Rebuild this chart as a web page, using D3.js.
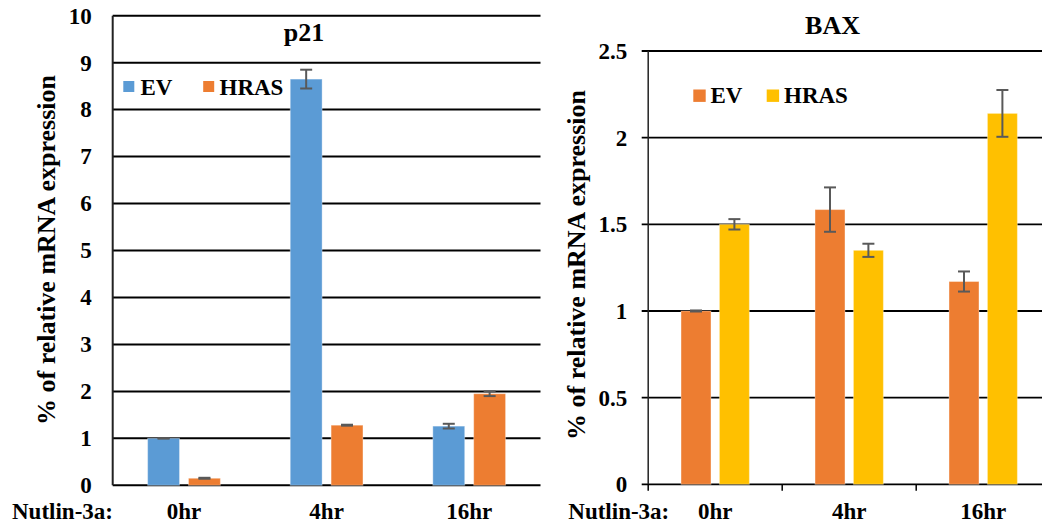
<!DOCTYPE html>
<html>
<head>
<meta charset="utf-8">
<script src="https://cdn.jsdelivr.net/npm/d3@7"></script>
<style>
  html, body { margin: 0; padding: 0; background: #fff; }
  svg { display: block; }
</style>
</head>
<body>
<svg id="chart" width="1042" height="527"></svg>
<script>
// Time points after Nutlin-3a treatment
const timepoints = ["0hr", "4hr", "16hr"];
const seriesNames = ["EV", "HRAS"];

// p21 relative mRNA expression (mean and error)
const p21EV = [1.00, 8.65, 1.26];
const p21EVErr = [0.005, 0.20, 0.05];
const p21HRAS = [0.15, 1.28, 1.95];
const p21HRASErr = [0.01, 0.01, 0.05];
const p21Ticks = [0, 1, 2, 3, 4, 5, 6, 7, 8, 9, 10];

// BAX relative mRNA expression (mean and error)
const baxEV = [1.00, 1.585, 1.17];
const baxEVErr = [0.003, 0.128, 0.058];
const baxHRAS = [1.50, 1.35, 2.14];
const baxHRASErr = [0.03, 0.038, 0.135];
const baxTicks = [0, 0.5, 1, 1.5, 2, 2.5];

const FONT = '"Liberation Serif"';
const svg = d3.select("#chart");

function label(sel, size) {
  return sel.attr("font-family", "Liberation Serif")
    .style("font-family", FONT).style("font-weight", "bold")
    .style("font-size", size + "px").style("fill", "#000");
}

function drawPanel(cfg) {
  const g = svg.append("g");
  const x0 = d3.scaleBand().domain(timepoints).range(cfg.xRange);
  const y = d3.scaleLinear().domain(cfg.yDomain).range(cfg.yRange);
  const pairW = x0.bandwidth() * 0.51;
  const x1 = d3.scaleBand().domain(seriesNames).range([-pairW / 2, pairW / 2]).paddingInner(0.22);
  const left = cfg.xRange[0];
  const right = Math.min(cfg.xRange[1], 1042);

  // gridlines
  g.append("g").selectAll("line").data(cfg.ticks).join("line")
    .attr("x1", left - cfg.tickOut).attr("x2", right)
    .attr("y1", d => y(d)).attr("y2", d => y(d))
    .attr("stroke", "#000").attr("stroke-width", cfg.gridW);

  // value axis line
  g.append("line")
    .attr("x1", left).attr("x2", left)
    .attr("y1", y(cfg.yDomain[0])).attr("y2", y(cfg.yDomain[1]))
    .attr("stroke", "#222").attr("stroke-width", cfg.axisW);

  // tick labels
  const ax = g.append("g").attr("transform", `translate(${left},0)`)
    .call(d3.axisLeft(y).tickValues(cfg.ticks).tickSize(0).tickPadding(21).tickFormat(d => String(d)));
  ax.select(".domain").remove();
  ax.attr("font-family", null).attr("font-size", null);
  label(ax.selectAll("text"), 23);

  // category tick marks below the baseline
  if (cfg.catTicks) {
    const bounds = timepoints.map(t => x0(t)).concat([x0(timepoints[2]) + x0.bandwidth()]);
    g.append("g").selectAll("line").data(bounds.filter(b => b <= 1042)).join("line")
      .attr("x1", d => d).attr("x2", d => d)
      .attr("y1", y(0)).attr("y2", y(0) + 6.5)
      .attr("stroke", "#000").attr("stroke-width", 1.5);
  }

  // bars
  const rows = timepoints.map((t, i) => ({
    t,
    items: seriesNames.map((s, j) => ({ s, v: cfg.values[j][i], e: cfg.errors[j][i], c: cfg.colors[j] }))
  }));
  const grp = g.append("g").selectAll("g").data(rows).join("g")
    .attr("transform", d => `translate(${x0(d.t) + x0.bandwidth() / 2},0)`);
  grp.selectAll("rect").data(d => d.items).join("rect")
    .attr("x", d => x1(d.s)).attr("width", x1.bandwidth())
    .attr("y", d => y(d.v)).attr("height", d => y(0) - y(d.v))
    .attr("fill", d => d.c)
    .attr("stroke", "#fff").attr("stroke-opacity", 0.35).attr("stroke-width", 1);

  // error bars
  const eb = grp.selectAll("g.err").data(d => d.items).join("g").attr("class", "err")
    .attr("stroke", "#595959").attr("stroke-width", 2);
  const cx = d => x1(d.s) + x1.bandwidth() / 2;
  eb.append("line")
    .attr("x1", cx).attr("x2", cx)
    .attr("y1", d => y(d.v + d.e)).attr("y2", d => y(d.v - d.e));
  eb.append("line")
    .attr("x1", d => cx(d) - 6).attr("x2", d => cx(d) + 6)
    .attr("y1", d => y(d.v + d.e)).attr("y2", d => y(d.v + d.e));
  eb.append("line")
    .attr("x1", d => cx(d) - 6).attr("x2", d => cx(d) + 6)
    .attr("y1", d => y(d.v - d.e)).attr("y2", d => y(d.v - d.e));

  // category labels
  label(g.append("g").selectAll("text").data(timepoints).join("text")
    .attr("x", d => x0(d) + x0.bandwidth() / 2).attr("y", 519)
    .attr("text-anchor", "middle").text(d => d), 23);

  label(g.append("text").attr("x", cfg.nutlinX).attr("y", 519).text("Nutlin-3a:"), 23);

  // chart title
  label(g.append("text").attr("x", cfg.title.x).attr("y", cfg.title.y)
    .attr("text-anchor", "middle").text(cfg.title.text), 26);

  // value axis title
  label(g.append("text").attr("transform", `translate(${cfg.yTitle.x},${cfg.yTitle.y}) rotate(-90)`)
    .attr("text-anchor", "middle").text("% of relative mRNA expression"), 26);

  // legend
  const lg = g.append("g");
  seriesNames.forEach((s, j) => {
    const L = cfg.legend[j];
    lg.append("rect").attr("x", L.sx).attr("y", L.sy).attr("width", L.size).attr("height", L.size).attr("fill", cfg.colors[j]);
    label(lg.append("text").attr("x", L.tx).attr("y", L.ty).text(s), 23);
  });
}

drawPanel({
  xRange: [112.7, 540.5],
  yDomain: [0, 10],
  yRange: [485.3, 15.7],
  ticks: p21Ticks,
  tickOut: 0,
  gridW: 2,
  axisW: 2,
  catTicks: false,
  values: [p21EV, p21HRAS],
  errors: [p21EVErr, p21HRASErr],
  colors: ["#5B9BD5", "#ED7D31"],
  nutlinX: 12,
  title: { x: 304, y: 40.5, text: "p21" },
  yTitle: { x: 55, y: 250 },
  legend: [
    { sx: 123.3, sy: 81, size: 11, tx: 140.5, ty: 94.5 },
    { sx: 203.2, sy: 81, size: 11, tx: 219.5, ty: 94.5 }
  ]
});

drawPanel({
  xRange: [648.2, 1050.2],
  yDomain: [0, 2.5],
  yRange: [484.3, 51],
  ticks: baxTicks,
  tickOut: 6.5,
  gridW: 1.8,
  axisW: 1.5,
  catTicks: true,
  values: [baxEV, baxHRAS],
  errors: [baxEVErr, baxHRASErr],
  colors: ["#ED7D31", "#FFC000"],
  nutlinX: 568.3,
  title: { x: 832.5, y: 33.5, text: "BAX" },
  yTitle: { x: 585, y: 265 },
  legend: [
    { sx: 693.3, sy: 89.5, size: 12.4, tx: 710.5, ty: 103 },
    { sx: 766.7, sy: 89.5, size: 12.4, tx: 784, ty: 103 }
  ]
});
</script>
</body>
</html>
